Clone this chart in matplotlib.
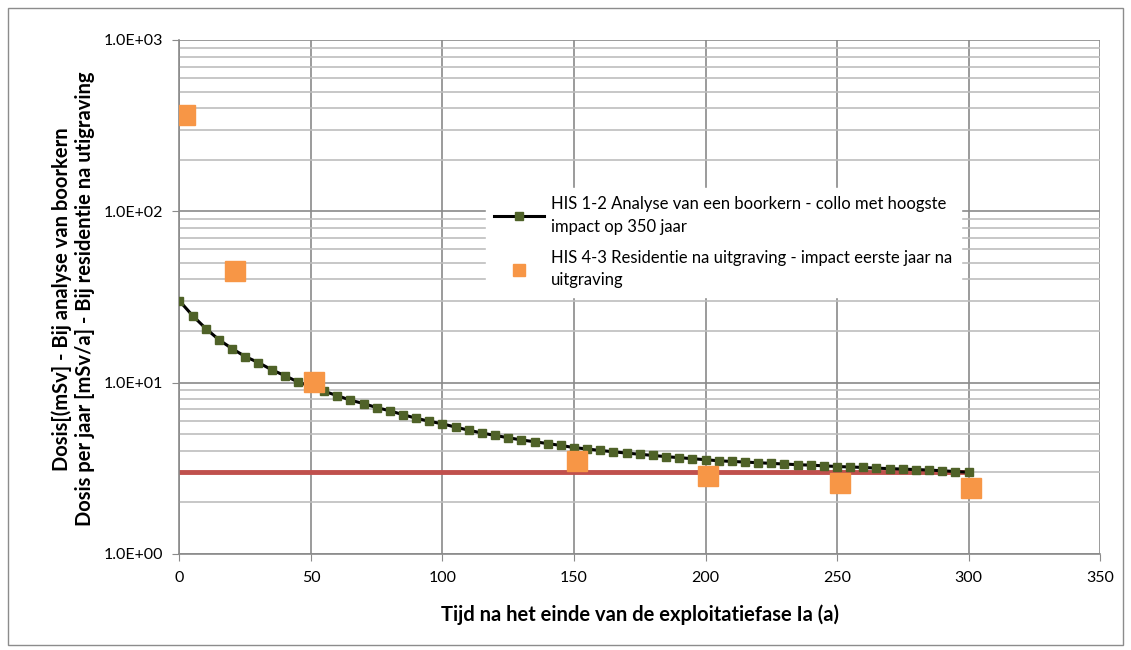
import matplotlib
matplotlib.use("Agg")
import matplotlib.pyplot as plt
from matplotlib.ticker import FixedLocator, FuncFormatter, LogLocator, NullFormatter

plt.rcParams['font.family'] = ['Lato', 'DejaVu Sans']

# HIS 1-2: dose curve every 5 years
his12_t = list(range(0, 305, 5))
his12_dose = [30.0, 24.6, 20.7, 17.8, 15.8, 14.2, 13.1, 11.9, 11.0, 10.1,
              9.5, 8.9, 8.4, 7.9, 7.55, 7.15, 6.85, 6.5, 6.2, 5.95,
              5.75, 5.5, 5.28, 5.08, 4.92, 4.77, 4.63, 4.52, 4.41, 4.3,
              4.18, 4.1, 4.02, 3.95, 3.88, 3.82, 3.76, 3.7, 3.65, 3.6,
              3.55, 3.5, 3.47, 3.44, 3.41, 3.38, 3.35, 3.32, 3.3, 3.27,
              3.24, 3.22, 3.2, 3.17, 3.15, 3.13, 3.11, 3.09, 3.06, 3.03, 3.0]

# HIS 4-3: residence after excavation
his43_t = [2, 21, 51, 151, 201, 251, 301]
his43_dose = [365, 44.7, 10.1, 3.5, 2.87, 2.59, 2.42]

# reference level
ref_t = [0, 300]
ref_dose = [3.0, 3.0]

fig = plt.figure(figsize=(11.31, 6.5), dpi=100)
fig.patches.append(plt.Rectangle((8 / 1131, 5 / 650), 1115 / 1131, 637 / 650,
                                 transform=fig.transFigure, fill=False,
                                 edgecolor='#8c8c8c', linewidth=1))
ax = fig.add_axes([0.1587, 0.1477, 0.8139, 0.7908])

ax.set_yscale('log')
ax.set_ylim(1, 1000)
ax.set_xlim(0, 350)

ax.xaxis.set_major_locator(FixedLocator(list(range(0, 351, 50))))
ax.yaxis.set_major_locator(LogLocator(base=10, numticks=10))
ax.yaxis.set_minor_locator(LogLocator(base=10, subs=range(2, 10), numticks=10))
ax.yaxis.set_major_formatter(FuncFormatter(lambda v, p: '%.1E' % v))
ax.yaxis.set_minor_formatter(NullFormatter())

ax.grid(True, which='major', axis='x', color='#8a8a8a', linewidth=1.2)
ax.grid(True, which='major', axis='y', color='#8a8a8a', linewidth=1.2)
ax.grid(True, which='minor', axis='y', color='#bdbdbd', linewidth=1.2)
ax.set_axisbelow(True)

for s in ['top', 'right']:
    ax.spines[s].set_visible(False)
for s in ['left', 'bottom']:
    ax.spines[s].set_color('#8a8a8a')
    ax.spines[s].set_linewidth(1.2)
ax.tick_params(axis='both', which='major', direction='out', length=5,
               color='#8a8a8a', labelsize=11.5, pad=7)
ax.tick_params(axis='y', which='minor', length=0)

ax.plot(ref_t, ref_dose, color='#C0504D', linewidth=3.5, zorder=2)
ax.plot(his12_t, his12_dose, color='black', linewidth=2.2, marker='s',
        markersize=6, markerfacecolor='#4F6228', markeredgecolor='#4F6228',
        label='HIS 1-2 Analyse van een boorkern - collo met hoogste\nimpact op 350 jaar',
        zorder=3)
ax.plot(his43_t, his43_dose, linestyle='none', marker='s', markersize=15,
        markerfacecolor='#F79646', markeredgecolor='#F79646',
        label='HIS 4-3 Residentie na uitgraving - impact eerste jaar na\nuitgraving',
        zorder=4)

leg = ax.legend(loc='upper left', bbox_to_anchor=(0.324, 0.728),
                prop={'size': 12}, frameon=True, fancybox=False, framealpha=1,
                edgecolor='white', handlelength=3.0, handletextpad=0.4,
                labelspacing=0.9, borderpad=0.5)
for t in leg.get_texts():
    t.set_linespacing(1.5)
leg.legend_handles[1].set_markersize(9)

ax.set_xlabel('Tijd na het einde van de exploitatiefase Ia (a)',
              fontsize=14.5, fontweight='bold', labelpad=14)
fig.text(73 / 1131, 1 - 299 / 650,
         'Dosis[(mSv] - Bij analyse van boorkern\nDosis per jaar [mSv/a] - Bij residentie na utigraving',
         ha='center', va='center', rotation=90, fontsize=14.5, fontweight='bold',
         linespacing=1.2)

fig.savefig('out.png', dpi=100)
